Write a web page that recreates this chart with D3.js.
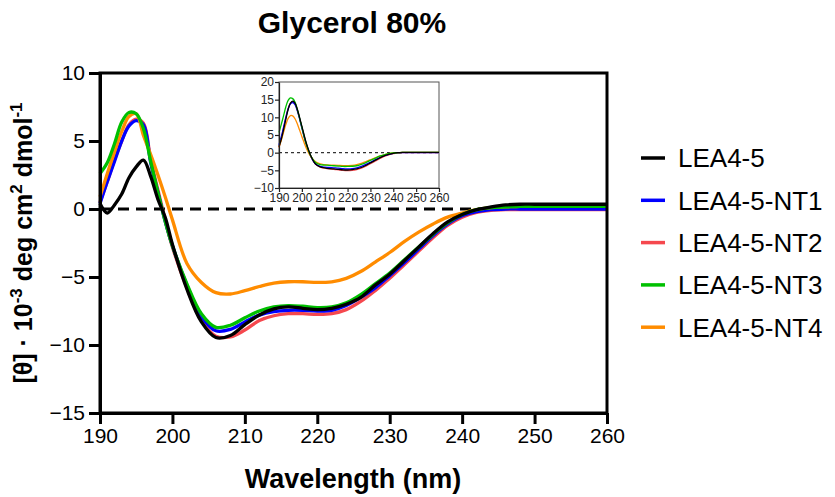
<!DOCTYPE html>
<html>
<head>
<meta charset="utf-8">
<script src="https://cdn.jsdelivr.net/npm/d3@7"></script>
<style>
	body { margin: 0; background: #fff; }
	svg { font-family: "Liberation Sans", Arial, sans-serif; }
</style>
</head>
<body>
<svg id="cd_chart"></svg>
<script>
// wavelengths (nm) shared by every curve
const wavelengths = [190, 191, 192, 193, 194, 195, 196, 197, 198, 199, 200,
	202, 204, 206, 208, 210, 212, 214, 216, 218, 220, 222, 224, 226, 228, 230,
	232, 234, 236, 238, 240, 242, 244, 246, 248, 250, 252, 254, 256, 258, 260];

const seriesNames = ["LEA4-5", "LEA4-5-NT1", "LEA4-5-NT2", "LEA4-5-NT3", "LEA4-5-NT4"];
const seriesColors = ["#000000", "#0000ff", "#f5484e", "#00c000", "#ff8c00"];

// main panel, Glycerol 80%
const lea45 = [0.4, -0.3, 0.3, 1.1, 2.3, 3.1, 3.6, 2.4, 0.7, -0.6, -2.6,
	-5.9, -8.3, -9.45, -9.3, -8.5, -7.8, -7.35, -7.2, -7.3, -7.4, -7.3, -7.0, -6.5, -5.6, -4.8,
	-3.8, -2.8, -1.8, -0.95, -0.4, -0.05, 0.15, 0.3, 0.35, 0.35, 0.35, 0.35, 0.35, 0.35, 0.35];
const nt1 = [0.4, 2.0, 3.5, 5.0, 6.1, 6.5, 6.2, 3.4, 1.2, -0.9, -2.7,
	-5.6, -7.9, -8.95, -8.85, -8.3, -7.8, -7.55, -7.45, -7.45, -7.5, -7.45, -7.1, -6.5, -5.8, -4.9,
	-3.95, -2.95, -1.95, -1.1, -0.5, -0.2, -0.05, 0.0, 0.0, 0.0, 0.0, 0.0, 0.0, 0.0, 0.0];
const nt2 = [0.5, 2.0, 3.6, 5.0, 6.2, 6.6, 6.3, 3.6, 1.4, -0.8, -2.8,
	-5.8, -8.2, -9.35, -9.4, -8.9, -8.2, -7.85, -7.7, -7.7, -7.75, -7.7, -7.4, -6.8, -6.0, -5.1,
	-4.1, -3.1, -2.1, -1.2, -0.6, -0.25, -0.1, -0.05, -0.05, -0.05, -0.05, -0.05, -0.05, -0.05, -0.05];
const nt3 = [2.6, 3.4, 4.8, 6.4, 7.1, 7.0, 5.9, 3.5, 1.2, -0.9, -2.7,
	-5.5, -7.7, -8.7, -8.55, -8.0, -7.5, -7.2, -7.1, -7.15, -7.25, -7.2, -6.9, -6.3, -5.5, -4.7,
	-3.75, -2.8, -1.85, -1.0, -0.4, -0.05, 0.1, 0.15, 0.2, 0.2, 0.2, 0.2, 0.2, 0.2, 0.2];
const nt4 = [0.9, 2.6, 4.2, 5.7, 6.8, 7.0, 5.4, 4.0, 2.5, 0.9, -0.8,
	-4.0, -5.4, -6.15, -6.25, -6.0, -5.7, -5.45, -5.35, -5.35, -5.4, -5.35, -5.1, -4.6, -3.9, -3.2,
	-2.4, -1.7, -1.1, -0.6, -0.3, -0.05, 0.1, 0.15, 0.2, 0.2, 0.2, 0.2, 0.2, 0.2, 0.2];

// inset panel
const insetLea45 = [1.7, 3.8, 6.5, 9.5, 12.2, 14.0, 14.6, 14.0, 12.3, 10.0, 7.5,
	2.6, -1.0, -3.2, -4.0, -4.3, -4.5, -4.6, -4.7, -4.85, -4.9, -4.8, -4.6, -4.2, -3.6, -2.9,
	-2.2, -1.5, -0.9, -0.5, -0.2, 0.0, 0.1, 0.1, 0.1, 0.1, 0.1, 0.1, 0.1, 0.1, 0.1];
const insetNt1 = [2.2, 4.5, 7.2, 10.0, 12.4, 13.8, 14.2, 13.6, 11.9, 9.6, 7.0,
	2.2, -1.2, -3.2, -3.9, -4.1, -4.2, -4.3, -4.4, -4.55, -4.6, -4.55, -4.3, -3.9, -3.3, -2.7,
	-2.0, -1.4, -0.85, -0.45, -0.2, -0.05, 0.0, 0.0, 0.0, 0.0, 0.0, 0.0, 0.0, 0.0, 0.0];
const insetNt2 = [1.5, 4.0, 7.0, 10.0, 12.5, 14.0, 14.3, 13.8, 12.0, 9.7, 7.2,
	2.4, -1.1, -3.3, -4.1, -4.4, -4.6, -4.7, -4.85, -5.0, -5.05, -5.0, -4.8, -4.4, -3.8, -3.1,
	-2.4, -1.7, -1.05, -0.6, -0.3, -0.1, 0.0, 0.0, 0.0, 0.0, 0.0, 0.0, 0.0, 0.0, 0.0];
const insetNt3 = [5.7, 8.0, 10.5, 13.0, 14.8, 15.5, 15.3, 14.3, 12.3, 9.8, 7.2,
	2.3, -1.0, -2.8, -3.4, -3.5, -3.6, -3.7, -3.8, -3.9, -3.9, -3.85, -3.7, -3.3, -2.8, -2.2,
	-1.6, -1.0, -0.6, -0.3, -0.1, 0.0, 0.1, 0.1, 0.1, 0.1, 0.1, 0.1, 0.1, 0.1, 0.1];
const insetNt4 = [1.5, 3.5, 5.8, 8.0, 9.7, 10.5, 10.4, 9.6, 8.2, 6.4, 4.6,
	1.2, -1.2, -2.6, -3.2, -3.4, -3.5, -3.55, -3.6, -3.65, -3.65, -3.6, -3.4, -3.0, -2.5, -2.0,
	-1.5, -1.0, -0.6, -0.3, -0.1, 0.0, 0.1, 0.1, 0.1, 0.1, 0.1, 0.1, 0.1, 0.1, 0.1];

const xTicks = [190, 200, 210, 220, 230, 240, 250, 260];
const yTicks = [-15, -10, -5, 0, 5, 10];
const insetYTicks = [-10, -5, 0, 5, 10, 15, 20];

const mainSeries = [lea45, nt1, nt2, nt3, nt4];
const insetSeries = [insetLea45, insetNt1, insetNt2, insetNt3, insetNt4];
// drawing order so the overlaps look like the original
const drawOrder = [2, 1, 4, 3, 0];

const W = 835, H = 497;
const svg = d3.select("#cd_chart").attr("width", W).attr("height", H);

// main scales
const x = d3.scaleLinear().domain([190, 260]).range([100, 607]);
const y = d3.scaleLinear().domain([-15, 10]).range([413, 73]);

const line = (sx, sy) => d3.line()
	.x((d, i) => sx(wavelengths[i]))
	.y(d => sy(d))
	.curve(d3.curveCatmullRom.alpha(0.5));

// zero reference line
svg.append("line")
	.attr("x1", x(190)).attr("x2", x(260))
	.attr("y1", y(0)).attr("y2", y(0))
	.attr("stroke", "#000")
	.attr("stroke-width", 3)
	.attr("stroke-dasharray", "11,7");

const mainLine = line(x, y);
drawOrder.forEach(i => {
	svg.append("path")
		.datum(mainSeries[i])
		.attr("fill", "none")
		.attr("stroke", seriesColors[i])
		.attr("stroke-width", 3.3)
		.attr("stroke-linejoin", "round")
		.attr("d", mainLine);
});

// frame
svg.append("rect")
	.attr("x", x(190)).attr("y", y(10))
	.attr("width", x(260) - x(190))
	.attr("height", y(-15) - y(10))
	.attr("fill", "none")
	.attr("stroke", "#000")
	.attr("stroke-width", 3);

const xAxis = svg.append("g")
	.attr("transform", `translate(0,${y(-15)})`)
	.call(d3.axisBottom(x).tickValues(xTicks).tickSize(11).tickSizeOuter(0).tickPadding(4));
xAxis.select(".domain").attr("stroke-width", 3);
xAxis.selectAll(".tick line").attr("stroke-width", 3);
xAxis.selectAll("text")
	.attr("font-size", "21px")
	.attr("font-family", "Liberation Sans, Arial, sans-serif")
	.attr("fill", "#000");

const yAxis = svg.append("g")
	.attr("transform", `translate(${x(190)},0)`)
	.call(d3.axisLeft(y).tickValues(yTicks).tickSize(11).tickSizeOuter(0).tickPadding(4));
yAxis.select(".domain").attr("stroke-width", 3);
yAxis.selectAll(".tick line").attr("stroke-width", 3);
yAxis.selectAll("text")
	.attr("font-size", "21px")
	.attr("font-family", "Liberation Sans, Arial, sans-serif")
	.attr("fill", "#000");

// titles
svg.append("text")
	.attr("x", 352)
	.attr("y", 33)
	.attr("text-anchor", "middle")
	.attr("font-size", "30px")
	.attr("font-weight", "bold")
	.text("Glycerol 80%");

svg.append("text")
	.attr("x", 353)
	.attr("y", 488)
	.attr("text-anchor", "middle")
	.attr("font-size", "27px")
	.attr("font-weight", "bold")
	.text("Wavelength (nm)");

const yLabel = svg.append("text")
	.attr("transform", `translate(32,${y(-2.5)}) rotate(-90)`)
	.attr("text-anchor", "middle")
	.attr("font-size", "25px")
	.attr("font-weight", "bold");
yLabel.append("tspan").text("[θ] · 10");
yLabel.append("tspan").attr("font-size", "17px").attr("dy", -10).text("-3");
yLabel.append("tspan").attr("dy", 10).text(" deg cm");
yLabel.append("tspan").attr("font-size", "17px").attr("dy", -10).text("2");
yLabel.append("tspan").attr("dy", 10).text(" dmol");
yLabel.append("tspan").attr("font-size", "17px").attr("dy", -10).text("-1");

// legend
const legend = svg.append("g")
	.selectAll("g")
	.data(seriesNames)
	.enter().append("g")
	.attr("transform", (d, i) => `translate(0,${158 + i * 42.3})`);

legend.append("line")
	.attr("x1", 641).attr("x2", 665)
	.attr("stroke", (d, i) => seriesColors[i])
	.attr("stroke-width", 3.5);

legend.append("text")
	.attr("x", 678)
	.attr("dy", "0.36em")
	.attr("font-size", "26px")
	.text(d => d);

// inset
const ix = d3.scaleLinear().domain([190, 260]).range([279, 439]);
const iy = d3.scaleLinear().domain([-10, 20]).range([188, 82]);
const inset = svg.append("g");

inset.append("rect")
	.attr("x", ix(190)).attr("y", iy(20))
	.attr("width", ix(260) - ix(190))
	.attr("height", iy(-10) - iy(20))
	.attr("fill", "#fff")
	.attr("stroke", "#555")
	.attr("stroke-width", 1);

inset.append("line")
	.attr("x1", ix(190)).attr("x2", ix(260))
	.attr("y1", iy(0)).attr("y2", iy(0))
	.attr("stroke", "#333")
	.attr("stroke-width", 1.3)
	.attr("stroke-dasharray", "3,3");

const insetLine = line(ix, iy);
drawOrder.forEach(i => {
	inset.append("path")
		.datum(insetSeries[i])
		.attr("fill", "none")
		.attr("stroke", seriesColors[i])
		.attr("stroke-width", 1.3)
		.attr("d", insetLine);
});

const ixAxis = inset.append("g")
	.attr("transform", `translate(0,${iy(-10)})`)
	.call(d3.axisBottom(ix).tickValues(xTicks).tickSize(4).tickSizeOuter(0).tickPadding(1));
const iyAxis = inset.append("g")
	.attr("transform", `translate(${ix(190)},0)`)
	.call(d3.axisLeft(iy).tickValues(insetYTicks).tickSize(4).tickSizeOuter(0).tickPadding(1));
[ixAxis, iyAxis].forEach(a => {
	a.select(".domain").attr("stroke", "#222").attr("stroke-width", 1.2);
	a.selectAll(".tick line").attr("stroke", "#222").attr("stroke-width", 1.2);
	a.selectAll("text")
		.attr("font-size", "12px")
		.attr("font-family", "Liberation Sans, Arial, sans-serif")
		.attr("fill", "#222");
});
</script>
</body>
</html>
